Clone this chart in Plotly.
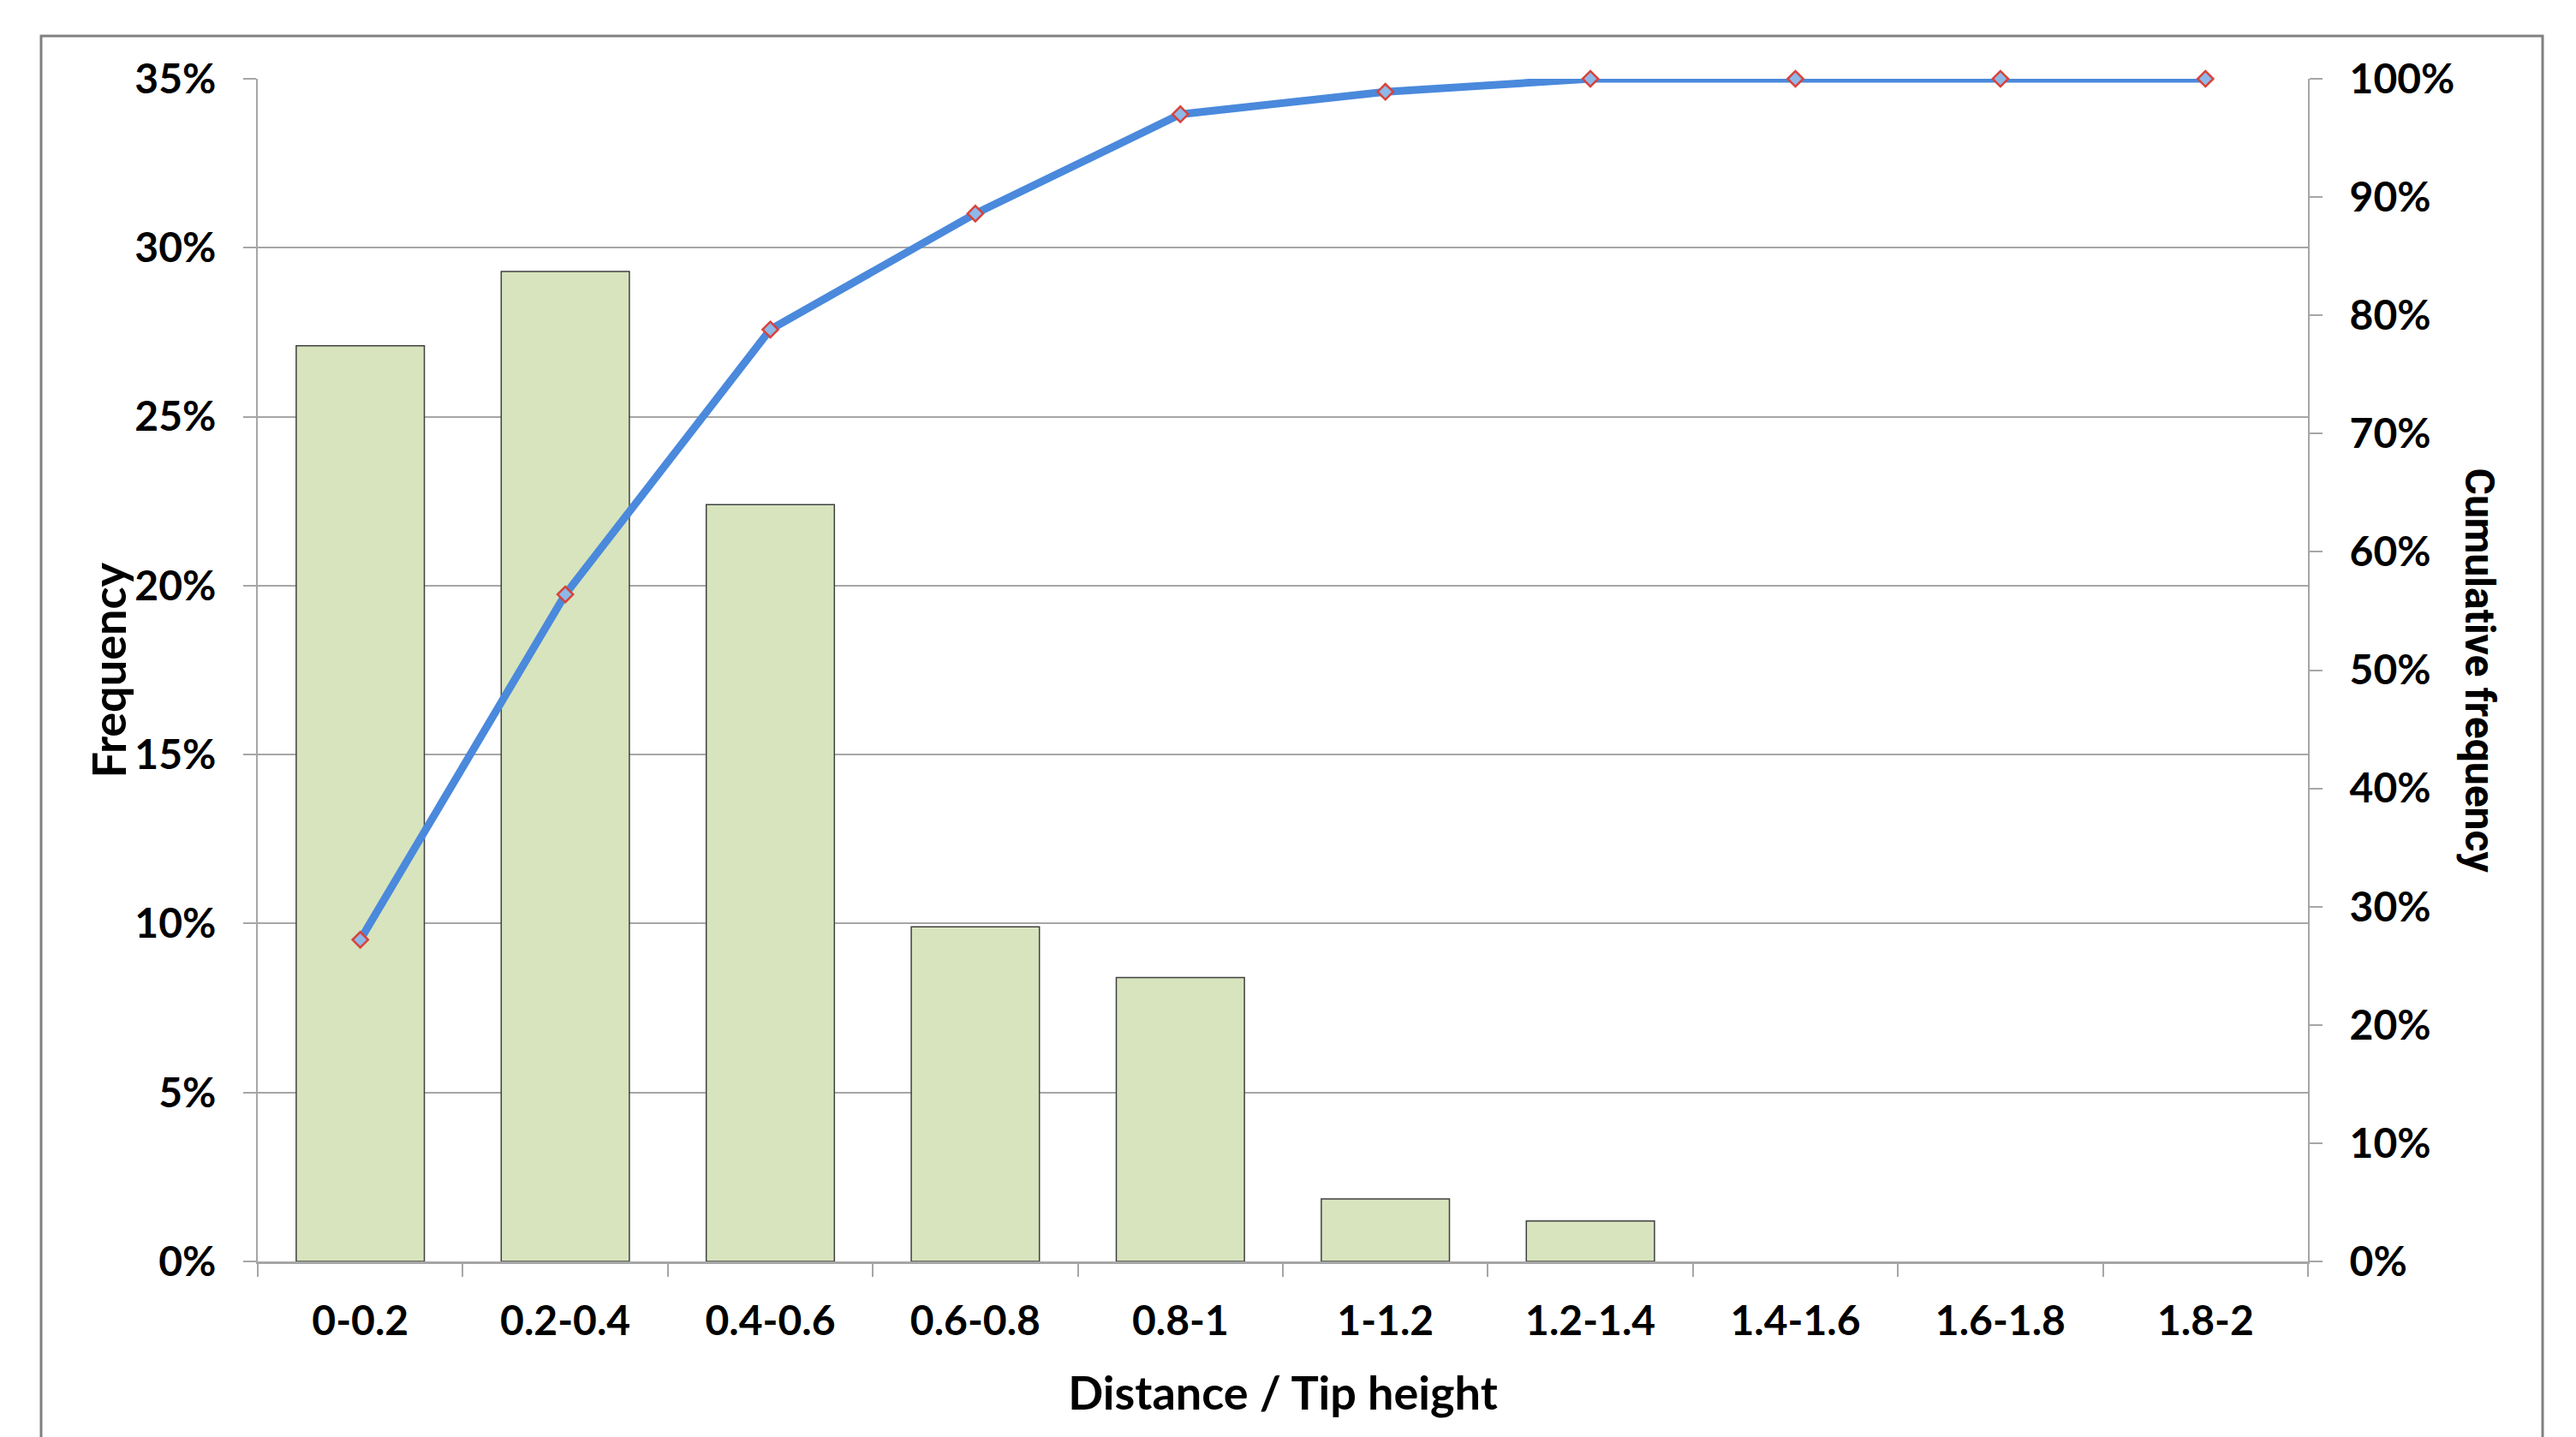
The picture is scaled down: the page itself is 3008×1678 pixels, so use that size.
import plotly.graph_objects as go

categories = ["0-0.2", "0.2-0.4", "0.4-0.6", "0.6-0.8", "0.8-1",
              "1-1.2", "1.2-1.4", "1.4-1.6", "1.6-1.8", "1.8-2"]
frequency = [0.271, 0.293, 0.224, 0.099, 0.084, 0.0185, 0.012, 0.0, 0.0, 0.0]
cumulative = [0.272, 0.564, 0.788, 0.886, 0.970, 0.989, 1.0, 1.0, 1.0, 1.0]
left_ticks = [0.0, 0.05, 0.10, 0.15, 0.20, 0.25, 0.30, 0.35]
right_ticks = [0.0, 0.1, 0.2, 0.3, 0.4, 0.5, 0.6, 0.7, 0.8, 0.9, 1.0]

W, H = 3008, 1678
L, R, T, B = 301, 313, 92, 205
pw, ph = W - L - R, H - T - B

axis_gray = "#A6A6A6"
tick_font = dict(family="Lato", size=48, color="black", weight="bold")
title_font = dict(family="Lato", size=54, color="black", weight="bold")

fig = go.Figure()
fig.add_bar(
    x=categories, y=frequency, yaxis="y",
    marker=dict(color="#D7E4BD",
                line=dict(color="#404040",
                          width=[1.5 if v > 0 else 0 for v in frequency])),
    name="Frequency",
)
fig.add_scatter(
    x=categories, y=cumulative, yaxis="y2", mode="lines+markers",
    line=dict(color="#4A89DC", width=9),
    marker=dict(symbol="diamond", size=14, color="#8EB8E8",
                line=dict(color="#D9423A", width=2.5)),
    cliponaxis=False,
    name="Cumulative frequency",
)

def px_x(x):
    return (x - L) / pw

def px_y(y):
    return (H - B - y) / ph

fig.update_layout(
    template="none",
    width=W, height=H,
    margin=dict(l=L, r=R, t=T, b=B, autoexpand=False),
    paper_bgcolor="white", plot_bgcolor="white",
    showlegend=False,
    bargap=0.375,
    xaxis=dict(
        type="category", range=[-0.5, len(categories) - 0.5],
        showline=True, linecolor=axis_gray, linewidth=2.5,
        ticks="outside", ticklen=15, tickcolor=axis_gray, tickwidth=2,
        tickson="boundaries", tickfont=tick_font, ticklabelstandoff=26,
        showgrid=False, zeroline=False,
        title=dict(text="Distance / Tip height", font=title_font, standoff=40),
    ),
    yaxis=dict(
        range=[0, 0.35], tickvals=left_ticks, tickformat=".0%",
        showgrid=True, gridcolor=axis_gray, gridwidth=2,
        showline=True, linecolor=axis_gray, linewidth=2,
        ticks="outside", ticklen=15, tickcolor=axis_gray, tickwidth=2,
        tickfont=tick_font, ticklabelstandoff=22, zeroline=False,
    ),
    yaxis2=dict(
        range=[0, 1.0], tickvals=right_ticks, tickformat=".0%",
        overlaying="y", side="right", showgrid=False,
        showline=True, linecolor=axis_gray, linewidth=2,
        ticks="outside", ticklen=15, tickcolor=axis_gray, tickwidth=2,
        tickfont=tick_font, ticklabelstandoff=22, zeroline=False,
    ),
    annotations=[
        dict(
            text="Frequency", textangle=-90, showarrow=False,
            xref="paper", yref="paper", x=px_x(126), y=0.5,
            xanchor="center", yanchor="middle", font=title_font,
        ),
        dict(
            text="Cumulative frequency", textangle=90, showarrow=False,
            xref="paper", yref="paper", x=px_x(2895), y=0.5,
            xanchor="center", yanchor="middle",
            font=dict(family="Roboto", size=48, color="black", weight="bold"),
        ),
    ],
    shapes=[dict(
        type="rect", xref="paper", yref="paper",
        x0=px_x(48), x1=px_x(2969), y0=px_y(1700), y1=px_y(42),
        line=dict(color="#808080", width=3), layer="below",
    )],
)

fig.write_html("out.html")
